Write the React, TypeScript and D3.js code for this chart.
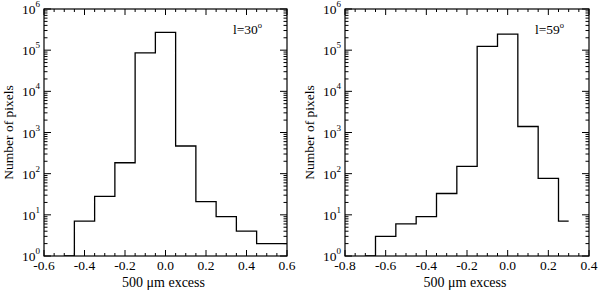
import React, { useEffect, useRef } from "react";
import * as d3 from "d3";

// bin centres and counts
const binsL = [-0.5, -0.4, -0.3, -0.2, -0.1, 0.0, 0.1, 0.2, 0.3, 0.4, 0.5, 0.6];
const countsL = [1, 7, 28, 184, 86000, 270000, 470, 21, 9, 4, 2, 2];

const binsR = [-0.7, -0.6, -0.5, -0.4, -0.3, -0.2, -0.1, 0.0, 0.1, 0.2, 0.3];
const countsR = [1, 3, 6, 9, 33, 150, 123000, 244000, 1400, 77, 7];

const xTicksL = [-0.6, -0.4, -0.2, 0.0, 0.2, 0.4, 0.6];
const xTicksR = [-0.8, -0.6, -0.4, -0.2, 0.0, 0.2, 0.4];
const yExps = [0, 1, 2, 3, 4, 5, 6];

interface PanelProps {
  left: number;
  right: number;
  bins: number[];
  counts: number[];
  xTicks: number[];
  label: string;
  id: string;
}

const FONT = "'Liberation Serif', 'Times New Roman', serif";

const Panel: React.FC<PanelProps> = ({ left, right, bins, counts, xTicks, label, id }) => {
  const gRef = useRef<SVGGElement>(null);
  const top = 9;
  const bottom = 256;

  useEffect(() => {
    const g = d3.select(gRef.current!);
    g.selectAll("*").remove();

    const x = d3
      .scaleLinear()
      .domain([xTicks[0], xTicks[xTicks.length - 1]])
      .range([left, right]);
    const y = d3.scaleLog().domain([1, 1e6]).range([bottom, top]);

    g.append("clipPath")
      .attr("id", id)
      .append("rect")
      .attr("x", left)
      .attr("y", top)
      .attr("width", right - left)
      .attr("height", bottom - top);

    // histogram
    const line = d3
      .line<number>()
      .x((_, i) => x(bins[i]))
      .y((d) => y(d))
      .curve(d3.curveStep);
    g.append("path")
      .attr("d", line(counts)!)
      .attr("fill", "none")
      .attr("stroke", "#000")
      .attr("stroke-width", 1.3)
      .attr("clip-path", `url(#${id})`);

    // frame
    g.append("rect")
      .attr("x", left)
      .attr("y", top)
      .attr("width", right - left)
      .attr("height", bottom - top)
      .attr("fill", "none")
      .attr("stroke", "#000")
      .attr("stroke-width", 1.2);

    // x ticks
    const [x0, x1] = x.domain();
    const minor = d3.range(0, Math.round((x1 - x0) / 0.05) + 1).map((i) => x0 + i * 0.05);
    minor.forEach((v, i) => {
      const len = i % 4 === 0 ? 6 : 3;
      const px = x(v);
      g.append("line").attr("x1", px).attr("x2", px).attr("y1", bottom).attr("y2", bottom - len).attr("stroke", "#000");
      g.append("line").attr("x1", px).attr("x2", px).attr("y1", top).attr("y2", top + len).attr("stroke", "#000");
    });
    g.selectAll(".xl")
      .data(xTicks)
      .join("text")
      .attr("x", (d) => x(d))
      .attr("y", bottom + 14)
      .attr("text-anchor", "middle")
      .style("font-family", FONT)
      .attr("font-size", 13.5)
      .text((d) => d3.format(".1f")(d).replace("−", "-"));

    // y ticks
    yExps.forEach((e) => {
      const py = y(Math.pow(10, e));
      [left, right].forEach((side) => {
        const dir = side === left ? 1 : -1;
        g.append("line").attr("x1", side).attr("x2", side + dir * 7).attr("y1", py).attr("y2", py).attr("stroke", "#000");
        if (e < 6) {
          for (let k = 2; k <= 9; k++) {
            const pm = y(k * Math.pow(10, e));
            g.append("line").attr("x1", side).attr("x2", side + dir * 3.5).attr("y1", pm).attr("y2", pm).attr("stroke", "#000");
          }
        }
      });
      const t = g
        .append("text")
        .attr("x", left - 4)
        .attr("y", py + 5)
        .attr("text-anchor", "end")
        .style("font-family", FONT)
        .attr("font-size", 13.5);
      t.append("tspan").text("10");
      t.append("tspan").attr("dy", -7).attr("font-size", 9).text(String(e));
    });

    // axis titles
    g.append("text")
      .attr("x", (left + right) / 2 - 2)
      .attr("y", 287)
      .attr("text-anchor", "middle")
      .style("font-family", FONT)
      .attr("font-size", 14)
      .text("500 μm excess");
    g.append("text")
      .attr("transform", `translate(${left - 31},${(top + bottom) / 2}) rotate(-90)`)
      .attr("text-anchor", "middle")
      .style("font-family", FONT)
      .attr("font-size", 13.5)
      .text("Number of pixels");

    // panel label
    const lt = g
      .append("text")
      .attr("x", right - 25)
      .attr("y", 34)
      .attr("text-anchor", "end")
      .style("font-family", FONT)
      .attr("font-size", 13.5);
    lt.append("tspan").text(label);
    lt.append("tspan").attr("dy", -6).attr("font-size", 8.5).text("o");
  }, [left, right, bins, counts, xTicks, label, id]);

  return <g ref={gRef} />;
};

const App: React.FC = () => (
  <svg width={600} height={291} style={{ position: "absolute", left: 0, top: 0, background: "#fff" }}>
    <Panel left={44} right={287} bins={binsL} counts={countsL} xTicks={xTicksL} label="l=30" id="clipL" />
    <Panel left={345} right={589} bins={binsR} counts={countsR} xTicks={xTicksR} label="l=59" id="clipR" />
  </svg>
);

export default App;
